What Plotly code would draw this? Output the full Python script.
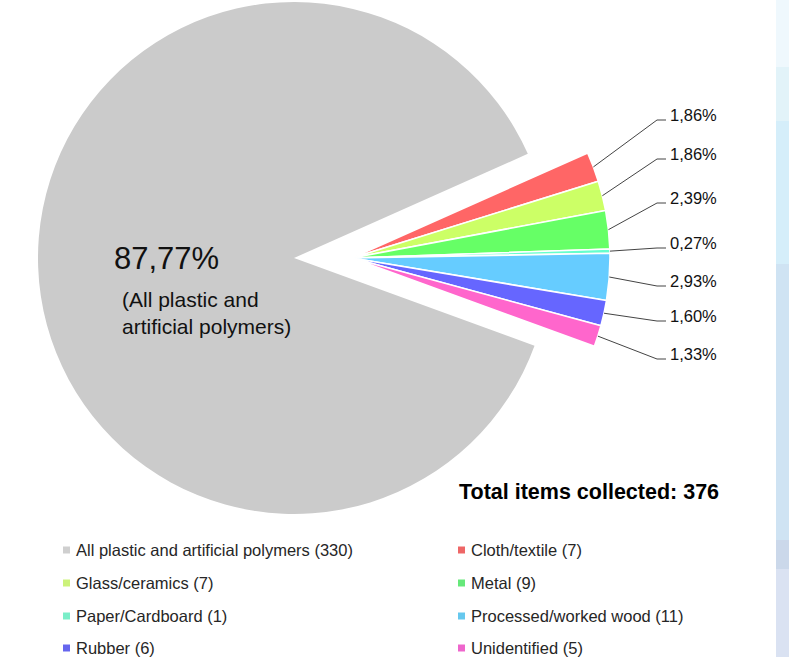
import math
import plotly.graph_objects as go

# ---------------- data ----------------
categories = [
    "All plastic and artificial polymers",
    "Cloth/textile",
    "Glass/ceramics",
    "Metal",
    "Paper/Cardboard",
    "Processed/worked wood",
    "Rubber",
    "Unidentified",
]
counts = [330, 7, 7, 9, 1, 11, 6, 5]
main_caption = "(All plastic and<br>artificial polymers)"
total_label = "Total items collected"

# ---------------- styles ----------------
slice_colors = ["#cbcbcb", "#ff6666", "#ccff66", "#66ff66", "#66ffcc", "#66ccff", "#6666ff", "#ff66cc"]
legend_colors = ["#cfcfcf", "#ee6666", "#ccf27a", "#66e87a", "#7aeec8", "#66c8ee", "#6666ee", "#ee66cc"]
CLEAR = "rgba(0,0,0,0)"
FONT = "Liberation Sans, Arial, Helvetica, sans-serif"

W, H = 789, 657


def px(x):
    return x / W


def py(y):
    return 1 - y / H


total = sum(counts)
pct = [c / total * 100 for c in counts]


def fmt(p):
    return f"{p:.2f}".replace(".", ",") + "%"


# geometry (pixels)
R_GREY = 256
R_REST = 258
GREY_C = (294, 258)
REST_C = (352, 258)
TILT = 2.0
grey_frac = counts[0] / total
rotation = 90 - TILT + (1 - grey_frac) * 180


def domain(c, r):
    return dict(x=[max(0, px(c[0] - r)), min(1, px(c[0] + r))],
                y=[max(0, py(c[1] + r)), min(1, py(c[1] - r))])


fig = go.Figure()

# grey (pulled-away) slice
fig.add_trace(go.Pie(
    labels=categories, values=counts, sort=False, direction="clockwise",
    rotation=rotation, domain=domain(GREY_C, R_GREY),
    marker=dict(colors=[slice_colors[0]] + [CLEAR] * (len(counts) - 1),
                line=dict(width=0, color=CLEAR)),
    textinfo="none", hoverinfo="none", showlegend=False,
))

# the small slices
fig.add_trace(go.Pie(
    labels=categories, values=counts, sort=False, direction="clockwise",
    rotation=rotation, domain=domain(REST_C, R_REST),
    marker=dict(colors=[CLEAR] + slice_colors[1:],
                line=dict(width=[0] + [1.6] * (len(counts) - 1),
                          color=[CLEAR] + ["#ffffff"] * (len(counts) - 1))),
    textinfo="none", hoverinfo="none", showlegend=False,
))

shapes = []
annotations = []

# right decorative stripe
stripe = [(0, 67, "#eff8fd"), (67, 121, "#e2f3f9"), (121, 264, "#d5eefa"),
          (264, 540, "#cfe3f3"), (540, 569, "#cbd8ea"), (569, 657, "#dae2f2")]
for y0, y1, col in stripe:
    shapes.append(dict(type="rect", xref="paper", yref="paper", layer="below",
                       x0=px(776), x1=1, y0=py(y1), y1=py(y0),
                       fillcolor=col, line=dict(width=0)))

# percentage labels with leader lines
LABEL_X = 668
LABEL_Y = [115, 154, 198, 243, 281, 316, 354]
cum = counts[0]
for i in range(1, len(counts)):
    mid = cum + counts[i] / 2
    cum += counts[i]
    theta = math.radians(rotation + mid / total * 360)
    sx = REST_C[0] + R_REST * math.sin(theta)
    sy = REST_C[1] - R_REST * math.cos(theta)
    ly = LABEL_Y[i - 1]
    path = (f"M {px(sx)},{py(sy)} L {px(657)},{py(ly + 5)} "
            f"L {px(666)},{py(ly + 5)}")
    shapes.append(dict(type="path", xref="paper", yref="paper", path=path,
                       line=dict(color="#444444", width=1)))
    annotations.append(dict(text=fmt(pct[i]), x=px(LABEL_X), y=py(ly),
                            xref="paper", yref="paper", xanchor="left", yanchor="middle",
                            showarrow=False, font=dict(family=FONT, size=16.5, color="#111111")))

# main slice label
annotations.append(dict(text=fmt(pct[0]), x=px(112), y=py(259), xref="paper", yref="paper",
                        xanchor="left", yanchor="middle", showarrow=False,
                        font=dict(family=FONT, size=31, color="#111111")))
annotations.append(dict(text=main_caption, x=px(120), y=py(313), xref="paper", yref="paper",
                        xanchor="left", yanchor="middle", align="left", showarrow=False,
                        font=dict(family=FONT, size=21, color="#111111")))

# total
annotations.append(dict(text=f"<b>{total_label}: {total}</b>", x=px(457), y=py(492),
                        xref="paper", yref="paper", xanchor="left", yanchor="middle",
                        showarrow=False, font=dict(family=FONT, size=21.5, color="#000000")))

# legend (two columns)
LEG_X = [63, 458]
LEG_Y = [550, 583, 616, 648]
for i, (cat, n) in enumerate(zip(categories, counts)):
    row, col = divmod(i, 2)
    x0 = LEG_X[col]
    yc = LEG_Y[row]
    shapes.append(dict(type="rect", xref="paper", yref="paper",
                       x0=px(x0), x1=px(x0 + 7), y0=py(yc + 3.5), y1=py(yc - 3.5),
                       fillcolor=legend_colors[i], line=dict(width=0)))
    annotations.append(dict(text=f"{cat} ({n})", x=px(x0 + 11), y=py(yc),
                            xref="paper", yref="paper", xanchor="left", yanchor="middle",
                            showarrow=False, font=dict(family=FONT, size=16.5, color="#262626")))

fig.update_layout(
    width=W, height=H, autosize=False,
    margin=dict(l=0, r=0, t=0, b=0),
    paper_bgcolor="#ffffff", plot_bgcolor="#ffffff",
    showlegend=False,
    shapes=shapes, annotations=annotations,
)

fig.write_html("out.html",
               config={"displayModeBar": False},
               post_script="document.body.style.margin='0';document.body.style.overflow='hidden';")
